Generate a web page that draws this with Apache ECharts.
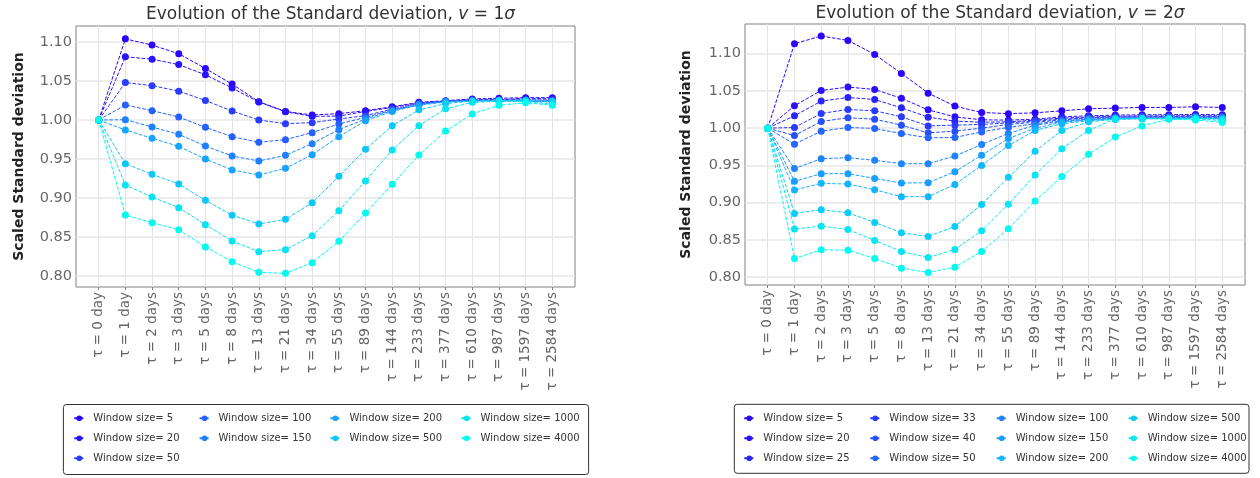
<!DOCTYPE html>
<html>
<head>
<meta charset="utf-8">
<script src="https://cdn.jsdelivr.net/npm/echarts@6/dist/echarts.min.js"></script>
<style>
  html, body { margin: 0; padding: 0; background: #ffffff; }
  #wrap { position: relative; width: 1260px; height: 478px; }
  .pane { position: absolute; top: 0; width: 630px; height: 478px; }
</style>
</head>
<body>
<div id="wrap">
  <div id="paneV1" class="pane" style="left:0"></div>
  <div id="paneV2" class="pane" style="left:630px"></div>
</div>
<script>
// Lags (days) shown along the x axis
const lags = [0, 1, 2, 3, 5, 8, 13, 21, 34, 55, 89, 144, 233, 377, 610, 987, 1597, 2584];
const yTicks = [0.80, 0.85, 0.90, 0.95, 1.00, 1.05, 1.10];

// ---- v = 1 sigma ----
const windowsV1 = [5, 20, 50, 100, 150, 200, 500, 1000, 4000];
const colorsV1 = ['#2d00ff', '#2a12ff', '#2a3cff', '#2660ff', '#1e80ff', '#16a4ff', '#0cc8f8', '#06e4f2', '#00fcef'];
const v1W5    = [1, 1.104, 1.096, 1.085, 1.066, 1.046, 1.0235, 1.011, 1.0064, 1.0081, 1.012, 1.017, 1.0226, 1.0248, 1.027, 1.0278, 1.0286, 1.0286];
const v1W20   = [1, 1.081, 1.078, 1.071, 1.058, 1.041, 1.023, 1.0105, 1.0047, 1.005, 1.011, 1.016, 1.022, 1.024, 1.026, 1.026, 1.028, 1.027];
const v1W50   = [1, 1.048, 1.044, 1.037, 1.025, 1.0115, 1.0, 0.9953, 0.9966, 1.0013, 1.0056, 1.014, 1.021, 1.024, 1.0256, 1.0256, 1.026, 1.0256];
const v1W100  = [1, 1.0192, 1.012, 1.0038, 0.9906, 0.9786, 0.9714, 0.9748, 0.9838, 0.9949, 1.0034, 1.0128, 1.0205, 1.024, 1.025, 1.0256, 1.0256, 1.025];
const v1W150  = [1, 1.0004, 0.991, 0.9816, 0.9667, 0.9538, 0.9474, 0.9547, 0.9697, 0.9876, 1.0013, 1.012, 1.0197, 1.024, 1.0248, 1.0248, 1.0244, 1.0235];
const v1W200  = [1, 0.9872, 0.9765, 0.9662, 0.950, 0.936, 0.9295, 0.938, 0.9556, 0.9786, 0.999, 1.011, 1.019, 1.023, 1.024, 1.0245, 1.024, 1.023];
const v1W500  = [1, 0.944, 0.9303, 0.918, 0.897, 0.878, 0.8667, 0.8726, 0.894, 0.9278, 0.9624, 0.9927, 1.013, 1.021, 1.0245, 1.025, 1.025, 1.024];
const v1W1000 = [1, 0.9167, 0.9013, 0.8876, 0.8658, 0.8449, 0.8312, 0.8338, 0.8517, 0.8838, 0.9218, 0.9615, 0.9927, 1.0145, 1.0226, 1.024, 1.0235, 1.0205];
const v1W4000 = [1, 0.8782, 0.8684, 0.8594, 0.8372, 0.8184, 0.8047, 0.8034, 0.8171, 0.8444, 0.8808, 0.9175, 0.955, 0.9859, 1.0077, 1.0188, 1.022, 1.019];
const seriesV1 = [v1W5, v1W20, v1W50, v1W100, v1W150, v1W200, v1W500, v1W1000, v1W4000];
const legendColsV1 = [[5, 20, 50], [100, 150], [200, 500], [1000, 4000]];

// ---- v = 2 sigma ----
const windowsV2 = [5, 20, 25, 33, 40, 50, 100, 150, 200, 500, 1000, 4000];
const colorsV2 = ['#2d00ff', '#2b0eff', '#2a22ff', '#2a3aff', '#284eff', '#2466ff', '#1e84ff', '#189eff', '#12b6fc', '#0ccdf6', '#06e6f2', '#00fcef'];
const v2W5    = [1, 1.1133, 1.1237, 1.1178, 1.099, 1.0735, 1.047, 1.0296, 1.021, 1.0195, 1.0206, 1.0233, 1.026, 1.0269, 1.0278, 1.0278, 1.0287, 1.0278];
const v2W20   = [1, 1.030, 1.0506, 1.0551, 1.052, 1.040, 1.0246, 1.0152, 1.0112, 1.0108, 1.012, 1.0152, 1.0166, 1.0175, 1.018, 1.018, 1.0185, 1.018];
const v2W25   = [1, 1.0166, 1.0363, 1.0412, 1.0385, 1.0273, 1.0148, 1.0094, 1.008, 1.0085, 1.0108, 1.0135, 1.015, 1.016, 1.0165, 1.0165, 1.017, 1.0165];
const v2W33   = [1, 1.0009, 1.0197, 1.0251, 1.0233, 1.0152, 1.003, 1.004, 1.005, 1.007, 1.0095, 1.012, 1.014, 1.015, 1.0155, 1.0155, 1.016, 1.0155];
const v2W40   = [1, 0.9901, 1.009, 1.0139, 1.0121, 1.004, 0.9937, 0.996, 1.0, 1.005, 1.008, 1.011, 1.0135, 1.0145, 1.015, 1.015, 1.0155, 1.015];
const v2W50   = [1, 0.9785, 0.996, 1.0009, 0.9996, 0.9928, 0.987, 0.9875, 0.995, 1.001, 1.006, 1.0095, 1.012, 1.0135, 1.014, 1.014, 1.0145, 1.014];
const v2W100  = [1, 0.9457, 0.959, 0.9604, 0.9568, 0.9523, 0.9523, 0.9626, 0.978, 0.993, 1.004, 1.009, 1.012, 1.013, 1.0135, 1.0135, 1.014, 1.0135];
const v2W150  = [1, 0.9286, 0.9389, 0.9389, 0.9326, 0.9263, 0.9268, 0.9416, 0.9637, 0.986, 1.0, 1.008, 1.011, 1.0125, 1.013, 1.013, 1.0135, 1.013];
const v2W200  = [1, 0.9169, 0.9259, 0.925, 0.9174, 0.908, 0.908, 0.9245, 0.950, 0.9767, 0.997, 1.006, 1.010, 1.012, 1.0125, 1.0125, 1.013, 1.0125];
const v2W500  = [1, 0.8856, 0.8905, 0.8865, 0.8735, 0.8596, 0.8547, 0.8681, 0.8977, 0.934, 0.969, 0.997, 1.0085, 1.012, 1.013, 1.013, 1.0135, 1.012];
const v2W1000 = [1, 0.8645, 0.8685, 0.8641, 0.8493, 0.8345, 0.8264, 0.8372, 0.8623, 0.898, 0.937, 0.9725, 0.997, 1.0125, 1.013, 1.0125, 1.0125, 1.01];
const v2W4000 = [1, 0.8251, 0.8367, 0.8363, 0.8251, 0.8121, 0.8063, 0.8134, 0.8345, 0.865, 0.9022, 0.935, 0.965, 0.988, 1.003, 1.012, 1.011, 1.0077];
const seriesV2 = [v2W5, v2W20, v2W25, v2W33, v2W40, v2W50, v2W100, v2W150, v2W200, v2W500, v2W1000, v2W4000];
const legendColsV2 = [[5, 20, 25], [33, 40, 50], [100, 150, 200], [500, 1000, 4000]];

const FONT = 'DejaVu Sans';
const seriesName = w => 'Window size= ' + w;
const lagLabel = i => {
  const d = lags[i];
  return '\u03c4 = ' + d + (d <= 1 ? ' day' : ' days');
};

function buildOption(cfg) {
  const series = cfg.windows.map((w, k) => ({
    name: seriesName(w),
    type: 'line',
    data: cfg.values[k].map((v, i) => [i, v]),
    symbol: 'circle',
    symbolSize: 7,
    showSymbol: true,
    animation: false,
    itemStyle: { color: cfg.colors[k] },
    lineStyle: { color: cfg.colors[k], width: 1, type: [3.7, 1.6] },
    emphasis: { disabled: true }
  }));

  const legends = cfg.legendCols.map((col, c) => ({
    orient: 'vertical',
    left: cfg.legendX[c] - 5,
    top: cfg.legendTop,
    padding: 0,
    itemGap: 8,
    itemWidth: 10,
    itemHeight: 7,
    data: col.map(seriesName),
    selectedMode: false,
    textStyle: { fontFamily: FONT, fontSize: 10, color: '#333', lineHeight: 12, padding: [0, 0, 0, 4] }
  }));

  return {
    backgroundColor: '#ffffff',
    animation: false,
    title: {
      text: '{a|Evolution of the Standard deviation, }{b|v}{a| = ' + cfg.nu + '}{b|\u03c3}',
      left: cfg.grid.left + (630 - cfg.grid.left - cfg.grid.right) / 2,
      textAlign: 'center',
      top: cfg.titleTop,
      textStyle: {
        fontWeight: 'normal',
        rich: {
          a: { fontFamily: FONT, fontSize: 17, color: '#333', fontWeight: 'normal' },
          b: { fontFamily: FONT, fontSize: 17, color: '#333', fontWeight: 'normal', fontStyle: 'italic' }
        }
      }
    },
    legend: legends,
    graphic: [{
      type: 'rect',
      shape: { x: cfg.legendBox[0], y: cfg.legendBox[1], width: cfg.legendBox[2], height: cfg.legendBox[3], r: 3 },
      style: { fill: 'none', stroke: '#333', lineWidth: 1 },
      silent: true
    }],
    grid: {
      left: cfg.grid.left, right: cfg.grid.right, top: cfg.grid.top, bottom: cfg.grid.bottom,
      show: true, borderColor: '#808080', borderWidth: 1, backgroundColor: 'transparent'
    },
    xAxis: {
      type: 'value',
      min: -0.85,
      max: lags.length - 1 + 0.85,
      axisLine: { show: false },
      axisTick: { show: true, length: 3, inside: false, lineStyle: { color: '#808080' }, customValues: lags.map((d, i) => i) },
      axisLabel: {
        customValues: lags.map((d, i) => i),
        formatter: v => lagLabel(Math.round(v)),
        rotate: 90, margin: 5,
        fontFamily: FONT, fontSize: 13.5, color: '#666'
      },
      splitLine: { show: true, lineStyle: { color: '#e3e3e3', width: 1 } }
    },
    yAxis: {
      type: 'value',
      min: cfg.yMin,
      max: cfg.yMax,
      name: 'Scaled Standard deviation',
      nameLocation: 'middle',
      nameGap: cfg.nameGap,
      nameTextStyle: { fontFamily: FONT, fontSize: 14, fontWeight: 'bold', color: '#222' },
      axisLine: { show: false },
      axisTick: { show: false, customValues: yTicks },
      axisLabel: {
        customValues: yTicks,
        formatter: v => v.toFixed(2),
        margin: 4,
        fontFamily: FONT, fontSize: 14.5, color: '#666'
      },
      splitLine: { show: true, lineStyle: { color: '#e6e6e6', width: 1.5 } }
    },
    series: series
  };
}

const chartV1 = echarts.init(document.getElementById('paneV1'), null, { renderer: 'canvas' });
chartV1.setOption(buildOption({
  nu: 1,
  windows: windowsV1, colors: colorsV1, values: seriesV1, legendCols: legendColsV1,
  grid: { left: 76, right: 55, top: 26, bottom: 191 },
  yMin: 0.7859, yMax: 1.1205,
  nameGap: 50,
  titleTop: 1,
  legendX: [78.3, 203.6, 334.4, 465.6],
  legendTop: 412.3,
  legendBox: [63.4, 404.5, 525.2, 70]
}));

const chartV2 = echarts.init(document.getElementById('paneV2'), null, { renderer: 'canvas' });
chartV2.setOption(buildOption({
  nu: 2,
  windows: windowsV2, colors: colorsV2, values: seriesV2, legendCols: legendColsV2,
  grid: { left: 115, right: 15, top: 24, bottom: 193 },
  yMin: 0.7895, yMax: 1.1398,
  nameGap: 52,
  titleTop: 0,
  legendX: [118.3, 244.3, 370.7, 502.7],
  legendTop: 412.3,
  legendBox: [104.3, 404.3, 514.7, 69]
}));
</script>
</body>
</html>
